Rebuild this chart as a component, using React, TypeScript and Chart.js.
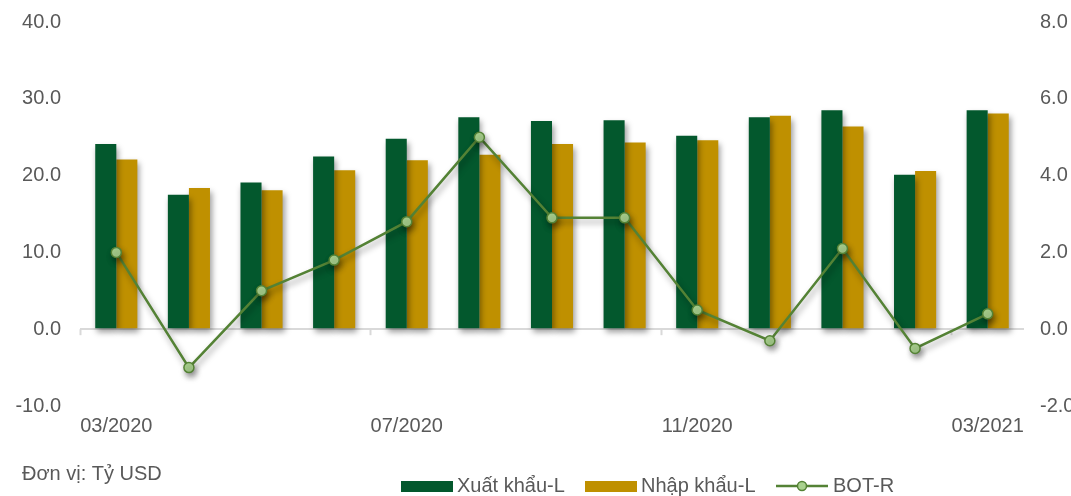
import React, { useEffect, useRef } from "react";
import { Chart, registerables } from "chart.js";

Chart.register(...registerables);

const categories = [
  "03/2020", "04/2020", "05/2020", "06/2020", "07/2020", "08/2020", "09/2020",
  "10/2020", "11/2020", "12/2020", "01/2021", "02/2021", "03/2021",
];
const exportsL = [24.1, 17.5, 19.1, 22.5, 24.8, 27.6, 27.1, 27.2, 25.2, 27.6, 28.5, 20.1, 28.5];
const importsL = [22.1, 18.4, 18.1, 20.7, 22.0, 22.7, 24.1, 24.3, 24.6, 27.8, 26.4, 20.6, 28.1];
const botR = [2.0, -1.0, 1.0, 1.8, 2.8, 5.0, 2.9, 2.9, 0.5, -0.3, 2.1, -0.5, 0.4];
const seriesNames = ["Xuất khẩu-L", "Nhập khẩu-L", "BOT-R"];
const unitLabel = "Đơn vị: Tỷ USD";

const GREEN = "#03582D";
const GOLD = "#BF9000";
const LINE = "#548235";
const MARKER = "#A9D18E";
const TEXT = "#595959";
const FONT = "'Liberation Sans', Arial, sans-serif";

export default function App() {
  const ref = useRef<HTMLCanvasElement | null>(null);

  useEffect(() => {
    document.body.style.margin = "0";
    const canvas = ref.current;
    if (!canvas) return;

    const shadowPlugin = {
      id: "shadow",
      beforeDatasetDraw(chart: any) {
        const ctx = chart.ctx;
        ctx.save();
        ctx.shadowColor = "rgba(0,0,0,0.4)";
        ctx.shadowBlur = 6;
        ctx.shadowOffsetX = 2;
        ctx.shadowOffsetY = 4;
      },
      afterDatasetDraw(chart: any) {
        chart.ctx.restore();
      },
    };

    const extrasPlugin = {
      id: "extras",
      beforeDatasetsDraw(chart: any) {
        const ctx = chart.ctx;
        const x = chart.scales.x;
        const y = chart.scales.y;
        const y0 = y.getPixelForValue(0);
        const half = (x.getPixelForTick(1) - x.getPixelForTick(0)) / 2;
        ctx.save();
        ctx.strokeStyle = "#D9D9D9";
        ctx.lineWidth = 2;
        for (let i = 0; i < categories.length; i += 4) {
          const px = Math.round(x.getPixelForTick(i) - half) + 0.5;
          ctx.beginPath();
          ctx.moveTo(px, y0);
          ctx.lineTo(px, y0 + 6);
          ctx.stroke();
        }
        ctx.restore();
      },
      afterDraw(chart: any) {
        const ctx = chart.ctx;
        ctx.save();
        ctx.font = `20px ${FONT}`;
        ctx.fillStyle = TEXT;
        ctx.textBaseline = "alphabetic";
        ctx.textAlign = "left";
        ctx.fillText(unitLabel, 22, 480);

        // legend
        const baseY = 492;
        const boxStarts = [401, 585];
        const colors = [GREEN, GOLD];
        for (let i = 0; i < 2; i++) {
          const bx = boxStarts[i];
          ctx.fillStyle = colors[i];
          ctx.fillRect(bx, 481, 52, 11);
          ctx.fillStyle = TEXT;
          ctx.fillText(seriesNames[i], bx + 56, baseY);
        }
        const lx = 776;
        ctx.strokeStyle = LINE;
        ctx.lineWidth = 2.5;
        ctx.beginPath();
        ctx.moveTo(lx, 486);
        ctx.lineTo(lx + 52, 486);
        ctx.stroke();
        ctx.beginPath();
        ctx.arc(lx + 26, 486, 4.5, 0, Math.PI * 2);
        ctx.fillStyle = MARKER;
        ctx.fill();
        ctx.lineWidth = 1.5;
        ctx.stroke();
        ctx.fillStyle = TEXT;
        ctx.fillText(seriesNames[2], lx + 57, baseY);
        ctx.restore();
      },
    };

    const chart = new Chart(canvas, {
      type: "bar",
      data: {
        labels: categories,
        datasets: [
          {
            type: "line",
            label: seriesNames[2],
            data: botR,
            yAxisID: "y1",
            borderColor: LINE,
            borderWidth: 2.5,
            pointRadius: 5,
            pointBackgroundColor: MARKER,
            pointBorderColor: LINE,
            pointBorderWidth: 1.5,
            tension: 0,
            order: 0,
          } as any,
          {
            type: "bar",
            label: seriesNames[0],
            data: exportsL,
            yAxisID: "y",
            backgroundColor: GREEN,
            categoryPercentage: 0.58,
            barPercentage: 1,
            order: 1,
          },
          {
            type: "bar",
            label: seriesNames[1],
            data: importsL,
            yAxisID: "y",
            backgroundColor: GOLD,
            categoryPercentage: 0.58,
            barPercentage: 1,
            order: 2,
          },
        ],
      },
      options: {
        responsive: false,
        animation: false,
        devicePixelRatio: 1,
        layout: { padding: { top: 22, left: 0, right: 0, bottom: 0 } },
        plugins: {
          legend: { display: false },
          tooltip: { enabled: false },
          title: { display: false },
        },
        scales: {
          x: {
            grid: { display: false, drawTicks: false },
            border: { display: false },
            ticks: {
              autoSkip: false,
              maxRotation: 0,
              padding: 8,
              color: TEXT,
              font: { family: FONT, size: 20 },
              callback: (_v: any, i: number) => (i % 4 === 0 ? categories[i] : ""),
            },
            afterFit: (s: any) => {
              s.height = 90;
              s.paddingLeft = 0;
              s.paddingRight = 0;
            },
          },
          y: {
            position: "left",
            min: -10,
            max: 40,
            grid: {
              drawTicks: false,
              lineWidth: 2,
              color: (c: any) => (c.tick && c.tick.value === 0 ? "#D9D9D9" : "rgba(0,0,0,0)"),
            },
            border: { display: false },
            ticks: {
              stepSize: 10,
              padding: 19,
              color: TEXT,
              font: { family: FONT, size: 20 },
              callback: (v: any) => Number(v).toFixed(1),
            },
            afterFit: (s: any) => {
              s.width = 80;
              s.paddingTop = 0;
              s.paddingBottom = 0;
            },
          },
          y1: {
            position: "right",
            min: -2,
            max: 8,
            grid: { display: false, drawTicks: false },
            border: { display: false },
            ticks: {
              stepSize: 2,
              padding: 16,
              color: TEXT,
              font: { family: FONT, size: 20 },
              callback: (v: any) => Number(v).toFixed(1),
            },
            afterFit: (s: any) => {
              s.width = 47;
              s.paddingTop = 0;
              s.paddingBottom = 0;
            },
          },
        },
      },
      plugins: [shadowPlugin, extrasPlugin],
    });

    return () => chart.destroy();
  }, []);

  return <canvas ref={ref} width={1071} height={496} style={{ display: "block" }} />;
}
